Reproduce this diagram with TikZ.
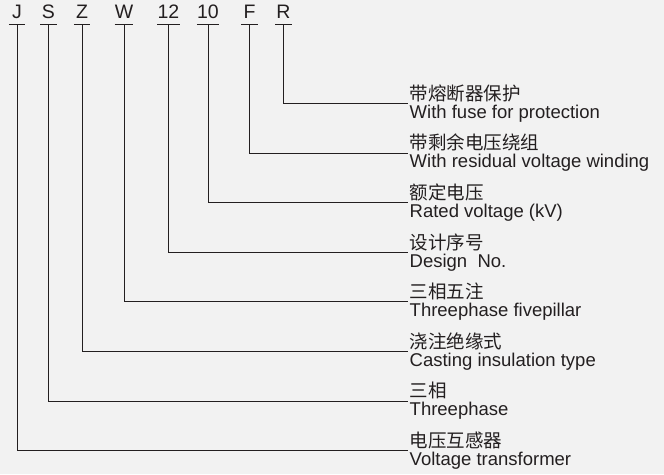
\documentclass[tikz,border=0pt]{standalone}
\usepackage{fontspec}
\setmainfont{Liberation Sans}
\newfontfamily\cjk{Noto Sans CJK SC}
\definecolor{ink}{HTML}{231F20}
\definecolor{bg}{HTML}{F2F2F2}

\begin{document}
\begin{tikzpicture}[x=1pt, y=-1pt,
  code/.style={inner sep=0pt, text depth=5pt, minimum width=16pt, anchor=south,
    text=ink, font=\fontsize{19.5}{20}\selectfont},
  desc/.style={inner xsep=1.5pt, inner ysep=0pt, anchor=west, align=left,
    text=ink, font=\fontsize{18.5}{18}\selectfont},
  lead/.style={draw=ink, line width=0.8pt}]

% 背景
\fill[bg] (0,0) rectangle (664,474);
\useasboundingbox (0,0) rectangle (664,474);

% 型号各位
\node[code] (cJ) at (17,24) {J};
\node[code] (cS) at (48.5,24) {S};
\node[code] (cZ) at (82,24) {Z};
\node[code] (cW) at (124,24) {W};
\node[code] (c12) at (168.5,24) {12};
\node[code] (c10) at (208,24) {10};
\node[code] (cF) at (249.5,24) {F};
\node[code] (cR) at (283.5,24) {R};

% 各位下方短线
\draw[lead] (cJ.south west) -- (cJ.south east);
\draw[lead] (cS.south west) -- (cS.south east);
\draw[lead] (cZ.south west) -- (cZ.south east);
\draw[lead] (cW.south west) -- (cW.south east);
\draw[lead] (c12.south west) -- (c12.south east);
\draw[lead] (c10.south west) -- (c10.south east);
\draw[lead] (cF.south west) -- (cF.south east);
\draw[lead] (cR.south west) -- (cR.south east);

% 说明文字
\node[desc] (dR) at (408,103.3) {{\cjk 带熔断器保护}\\With fuse for protection};
\node[desc] (dF) at (408,152.9) {{\cjk 带剩余电压绕组}\\With residual voltage winding};
\node[desc] (d10) at (408,202.5) {{\cjk 额定电压}\\Rated voltage (kV)};
\node[desc] (d12) at (408,252.1) {{\cjk 设计序号}\\Design\ \ No.};
\node[desc] (dW) at (408,301.7) {{\cjk 三相五注}\\Threephase fivepillar};
\node[desc] (dZ) at (408,351.3) {{\cjk 浇注绝缘式}\\Casting insulation type};
\node[desc] (dS) at (408,400.9) {{\cjk 三相}\\Threephase};
\node[desc] (dJ) at (408,450.5) {{\cjk 电压互感器}\\Voltage transformer};

% 引线
\draw[lead] (cR.south) |- (dR.west);
\draw[lead] (cF.south) |- (dF.west);
\draw[lead] (c10.south) |- (d10.west);
\draw[lead] (c12.south) |- (d12.west);
\draw[lead] (cW.south) |- (dW.west);
\draw[lead] (cZ.south) |- (dZ.west);
\draw[lead] (cS.south) |- (dS.west);
\draw[lead] (cJ.south) |- (dJ.west);

\end{tikzpicture}
\end{document}
